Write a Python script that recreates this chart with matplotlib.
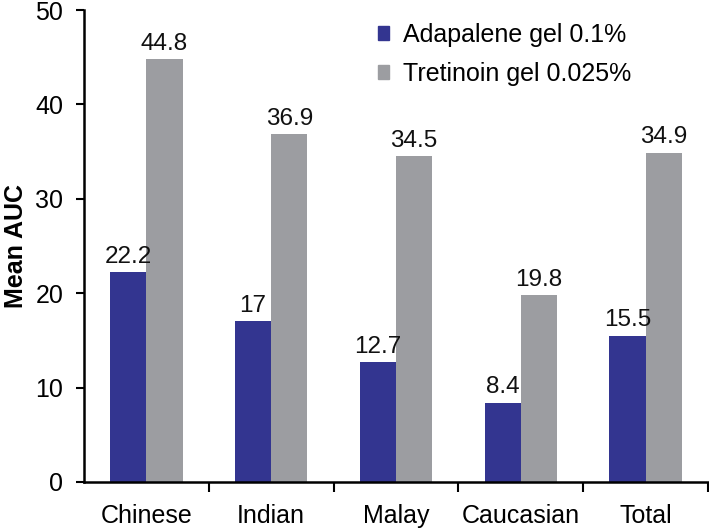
import matplotlib
matplotlib.use("Agg")
import matplotlib.pyplot as plt
import numpy as np
from matplotlib.patches import Patch

categories = ["Chinese", "Indian", "Malay", "Caucasian", "Total"]
adapalene = [22.2, 17, 12.7, 8.4, 15.5]
tretinoin = [44.8, 36.9, 34.5, 19.8, 34.9]
labels_ada = ["22.2", "17", "12.7", "8.4", "15.5"]
labels_tre = ["44.8", "36.9", "34.5", "19.8", "34.9"]
series_names = ["Adapalene gel 0.1%", "Tretinoin gel 0.025%"]

blue = "#333590"
gray = "#9c9da1"

plt.rcParams['font.family'] = ['Liberation Sans', 'DejaVu Sans']

fig = plt.figure(figsize=(7.09, 5.29), dpi=100)
ax = fig.add_axes([0.1185, 0.089, 0.880, 0.892])

x = np.arange(len(categories))
w = 0.29
ax.bar(x - w/2, adapalene, w, color=blue)
ax.bar(x + w/2, tretinoin, w, color=gray)

for xi, v, t in zip(x - w/2, adapalene, labels_ada):
    ax.annotate(t, (xi, v), xytext=(0, 3), textcoords="offset points",
                ha="center", va="bottom", fontsize=17.5, color="#111111")
for xi, v, t in zip(x + w/2, tretinoin, labels_tre):
    ax.annotate(t, (xi, v), xytext=(0, 3), textcoords="offset points",
                ha="center", va="bottom", fontsize=17.5, color="#111111")

ax.set_xlim(-0.5, len(categories) - 0.5)
ax.set_ylim(0, 50)
ax.set_yticks([0, 10, 20, 30, 40, 50])
ax.tick_params(axis='y', labelsize=18, length=6, width=1.5, direction='out', pad=9)

ax.set_xticks(x)
ax.set_xticklabels(categories, fontsize=18)
ax.tick_params(axis='x', length=0, pad=16)
ax.set_xticks(np.arange(len(categories)) + 0.5, minor=True)
ax.tick_params(axis='x', which='minor', length=7, width=1.5, direction='out')

for s in ['top', 'right']:
    ax.spines[s].set_visible(False)
for s in ['left', 'bottom']:
    ax.spines[s].set_linewidth(1.8)

ax.set_ylabel("Mean AUC", fontsize=18, fontweight='bold', labelpad=5)

handles = [Patch(color=blue), Patch(color=gray)]
ax.legend(handles, series_names, loc='upper left', bbox_to_anchor=(0.443, 1.01),
          frameon=False, fontsize=18, handlelength=0.45, handleheight=0.45,
          handletextpad=0.55, labelspacing=0.6, borderaxespad=0.3)

fig.savefig("out.png", dpi=100)
